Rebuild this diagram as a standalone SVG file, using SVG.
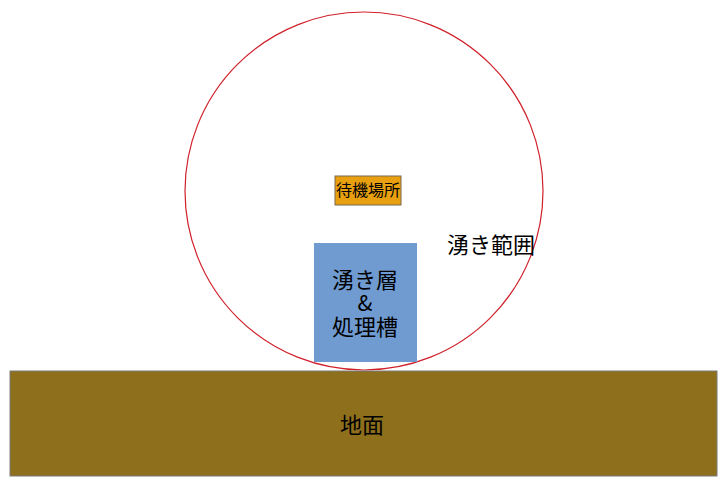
<svg xmlns="http://www.w3.org/2000/svg" width="724" height="488" viewBox="0 0 724 488">
<style>
text{font-family:"Noto Sans CJK JP","Liberation Sans",sans-serif;fill:#000;text-anchor:middle}
</style>
<rect width="724" height="488" fill="#fff"/>
<g id="range">
<circle cx="364" cy="191" r="179" fill="none" stroke="#d0202a" stroke-width="1.2"/>
<text x="491" y="253" font-size="22">湧き範囲</text>
</g>
<g id="ground">
<rect x="10" y="371" width="707" height="105" fill="#8e6f1c" stroke="#7a7a7a" stroke-width="1"/>
<text x="362" y="433" font-size="22">地面</text>
</g>
<g id="layer">
<rect x="314" y="243" width="103" height="119" fill="#6f9bd1"/>
<text x="365" y="288" font-size="22">湧き層</text>
<text x="365" y="311" font-size="22">&amp;</text>
<text x="365" y="335" font-size="22">処理槽</text>
</g>
<g id="wait">
<rect x="335" y="176" width="66" height="29" fill="#e8a010" stroke="#7a6a50" stroke-width="1"/>
<text x="368" y="196" font-size="16">待機場所</text>
</g>
<g id="connectors"></g>
</svg>
